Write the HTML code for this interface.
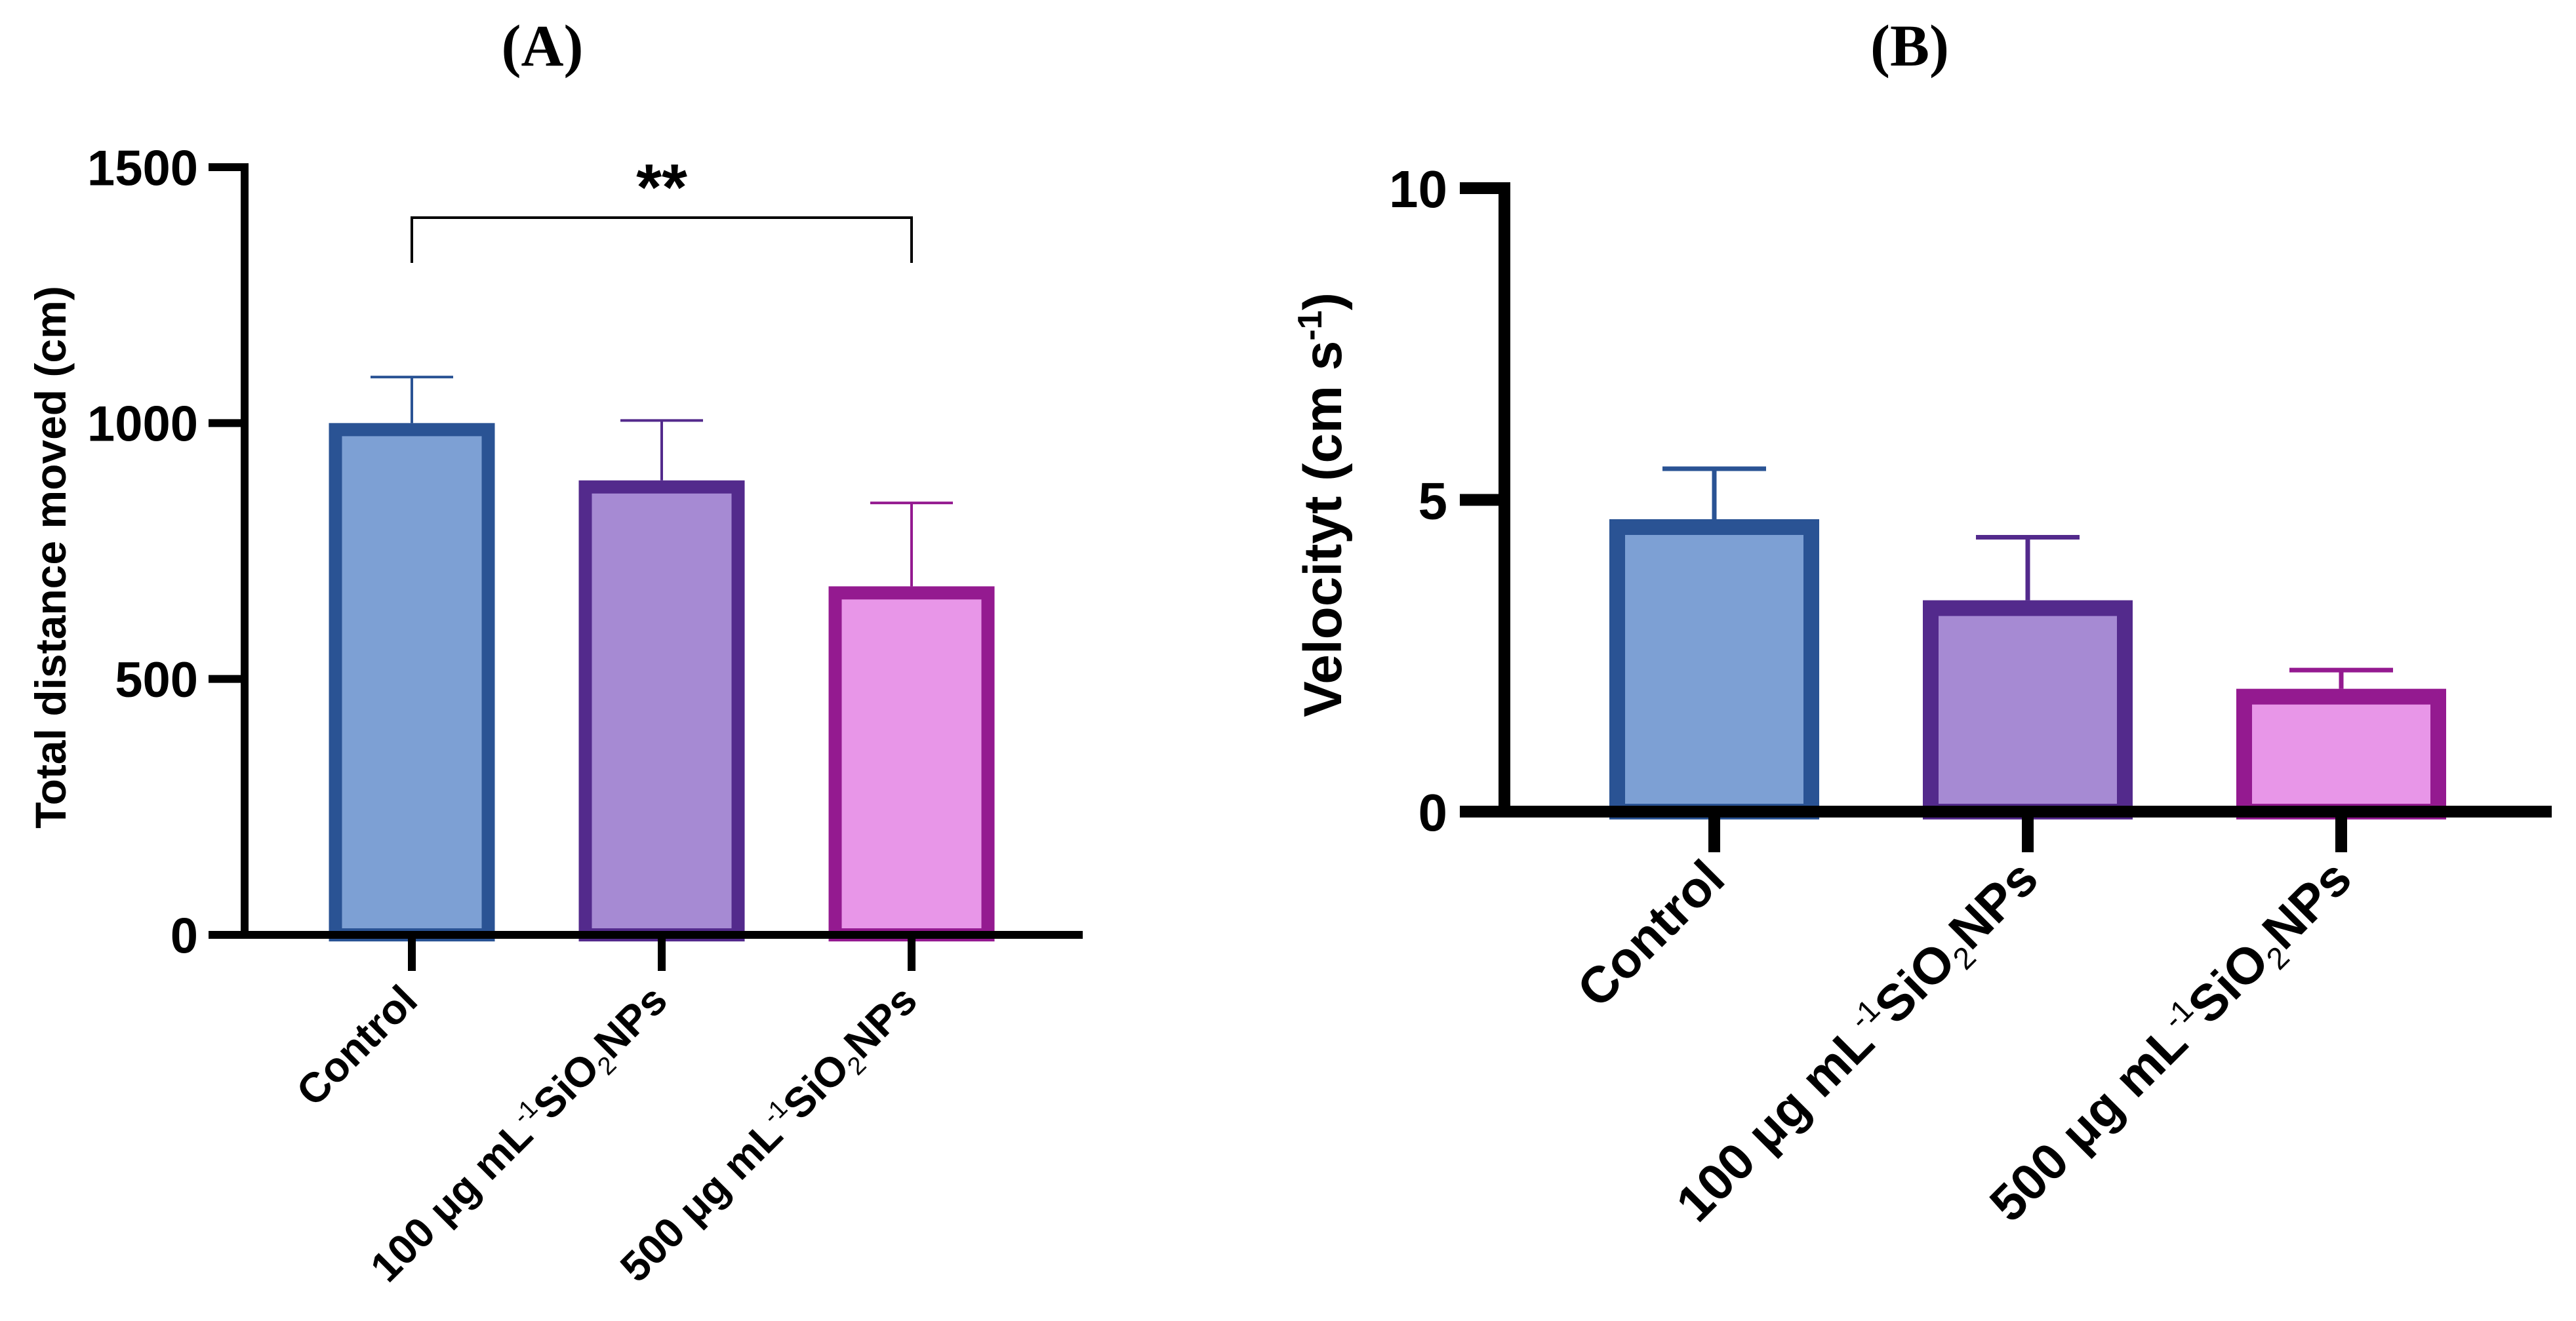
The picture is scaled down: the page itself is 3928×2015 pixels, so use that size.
<!DOCTYPE html>
<html><head><meta charset="utf-8"><style>
html,body{margin:0;padding:0;background:#fff;}
svg{display:block;font-family:"Liberation Sans",Arial,sans-serif;}
</style></head><body>
<svg id="fig" width="3928" height="2015" viewBox="0 0 3928 2015">
<text x="827" y="100" text-anchor="middle" font-family="Liberation Serif,serif" font-weight="bold" font-size="90">(A)</text>
<text x="2912" y="100" text-anchor="middle" font-family="Liberation Serif,serif" font-weight="bold" font-size="90">(B)</text>
<g id="chartA"></g>
<g id="chartB"></g>
</svg>
<script>
const categories = ["Control", "100 μg mL-1 SiO2NPs", "500 μg mL-1 SiO2NPs"];
const distValues = [1000, 888, 681];
const distErrors = [90, 117, 163];
const distTicks = [0, 500, 1000, 1500];
const velValues = [4.69, 3.39, 1.97];
const velErrors = [0.81, 1.01, 0.30];
const velTicks = [0, 5, 10];
const edgeColors = ["#2a5394", "#532a8c", "#941a90"];
const fillColors = ["#7da0d4", "#a68ad3", "#e896e8"];

const NS = "http://www.w3.org/2000/svg";
function mk(parent, tag, attrs) {
  const e = document.createElementNS(NS, tag);
  for (const k in attrs) e.setAttribute(k, attrs[k]);
  parent.appendChild(e);
  return e;
}

function drawChart(g, cfg, values, errors, ticks) {
  const y = v => cfg.y0 - (v - ticks[0]) / (ticks[ticks.length - 1] - ticks[0]) * (cfg.y0 - cfg.yTop);
  const x = i => cfg.xFirst + i * cfg.step;
  values.forEach((v, i) => {
    const cx = x(i), b = cfg.border;
    const err = mk(g, "line", {x1: cx, x2: cx, y1: y(v), y2: y(v + errors[i]), stroke: edgeColors[i], "stroke-width": cfg.errW});
    
    
    const cap = mk(g, "line", {x1: cx - cfg.cap / 2, x2: cx + cfg.cap / 2, y1: y(v + errors[i]), y2: y(v + errors[i]), stroke: edgeColors[i], "stroke-width": cfg.errW});
    
    
    const r = mk(g, "rect", {x: cx - cfg.barW / 2 + b / 2, y: y(v) + b / 2, width: cfg.barW - b, height: cfg.y0 - y(v) - b / 2, fill: fillColors[i], stroke: edgeColors[i], "stroke-width": b});
    
    
    const t = mk(g, "line", {x1: cx, x2: cx, y1: cfg.y0, y2: cfg.y0 + cfg.xTickLen, stroke: "#000", "stroke-width": cfg.axisW});
    
    
    const lx = cx + cfg.lblDx, ly = cfg.lblY;
    const txt = mk(g, "text", {x: lx, y: ly, "text-anchor": "end", "font-weight": "bold", "font-size": cfg.lblFs, transform: `rotate(-45 ${lx} ${ly})`});
    
    
    const c = categories[i];
    if (c.indexOf("SiO2") < 0) { txt.textContent = c; }
    else {
      const parts = c.split(" ");
      const pre = parts[0] + " " + parts[1] + " mL";
      mk(txt, "tspan", {}).textContent = pre;
      const s1 = mk(txt, "tspan", {dy: -cfg.lblFs * 0.4, "font-size": cfg.lblFs * 0.6, "font-weight": "normal"}); s1.textContent = "-1";
      const s2 = mk(txt, "tspan", {dy: cfg.lblFs * 0.4}); s2.textContent = "SiO";
      const s3 = mk(txt, "tspan", {dy: cfg.lblFs * 0.2, "font-size": cfg.lblFs * 0.6, "font-weight": "normal"}); s3.textContent = "2";
      const s4 = mk(txt, "tspan", {dy: -cfg.lblFs * 0.2}); s4.textContent = "NPs";
    }
  });
  const ya = mk(g, "line", {x1: cfg.xAxis, x2: cfg.xAxis, y1: cfg.yTop - cfg.axisW / 2, y2: cfg.y0 + cfg.axisW / 2, stroke: "#000", "stroke-width": cfg.axisW});
  
  
  const xa = mk(g, "line", {x1: cfg.xAxis - cfg.yTickLen, x2: cfg.xEnd, y1: cfg.y0, y2: cfg.y0, stroke: "#000", "stroke-width": cfg.axisW});
  
  
  ticks.forEach(tv => {
    const tl = mk(g, "line", {x1: cfg.xAxis - cfg.yTickLen, x2: cfg.xAxis, y1: y(tv), y2: y(tv), stroke: "#000", "stroke-width": cfg.axisW});
    
    
    const tt = mk(g, "text", {x: cfg.tickLblX, y: y(tv) + cfg.tickFs * 0.36, "text-anchor": "end", "font-weight": "bold", "font-size": cfg.tickFs});
    tt.textContent = tv;
    
    
  });
  return y;
}

const gA = document.getElementById("chartA");
drawChart(gA, {y0: 1426, yTop: 255, xAxis: 373, xEnd: 1651, xFirst: 628, step: 381, barW: 253, border: 20, errW: 4, cap: 126, axisW: 12, xTickLen: 55, yTickLen: 55, tickLblX: 302, tickFs: 76, lblFs: 64, lblDx: 12, lblY: 1530}, distValues, distErrors, distTicks);
const titleA = mk(gA, "text", {x: 0, y: 0, transform: "translate(100 850) rotate(-90)", "text-anchor": "middle", "font-weight": "bold", "font-size": 66});
titleA.textContent = "Total distance moved (cm)";


const bx1 = 628, bx2 = 628 + 2 * 381, by = 332, byEnd = 401;
const br = mk(gA, "path", {d: `M${bx1} ${byEnd} V${by} H${bx2} V${byEnd}`, fill: "none", stroke: "#000", "stroke-width": 4});


const st = mk(gA, "text", {x: (bx1 + bx2) / 2, y: 320, "text-anchor": "middle", "font-weight": "bold", "font-size": 100});
st.textContent = "**";



const gB = document.getElementById("chartB");
drawChart(gB, {y0: 1238, yTop: 287, xAxis: 2294, xEnd: 3891, xFirst: 2614, step: 478, barW: 320, border: 24, errW: 7, cap: 158, axisW: 18, xTickLen: 62, yTickLen: 68, tickLblX: 2207, tickFs: 80, lblFs: 78, lblDx: 20, lblY: 1345}, velValues, velErrors, velTicks);
const titleB = mk(gB, "text", {x: 0, y: 0, transform: "translate(2045 770) rotate(-90)", "text-anchor": "middle", "font-weight": "bold", "font-size": 82});


mk(titleB, "tspan", {}).textContent = "Velocityt (cm s";
const sup = mk(titleB, "tspan", {dy: -30, "font-size": 52}); sup.textContent = "-1";
const cl = mk(titleB, "tspan", {dy: 30}); cl.textContent = ")";
</script>
</body></html>
